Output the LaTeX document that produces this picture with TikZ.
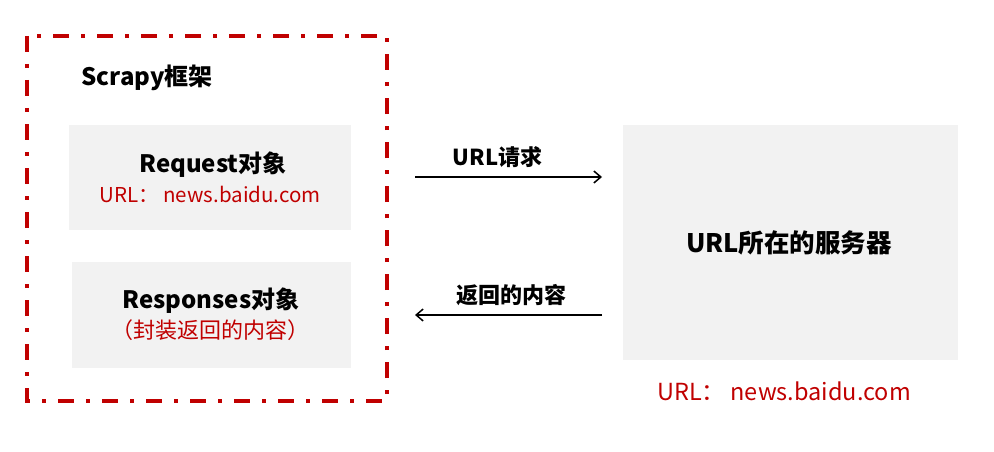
\documentclass[tikz,border=0pt]{standalone}
\usepackage{fontspec}
\setmainfont{Noto Sans CJK SC}
\usetikzlibrary{arrows.meta}
\definecolor{redc}{HTML}{C00000}
\definecolor{boxg}{HTML}{F2F2F2}
\tikzset{
  gbox/.style={fill=boxg, draw=none, inner sep=0pt},
  title/.style={font=\fontsize{24}{28}\selectfont\bfseries, text=black},
  redtxt/.style={font=\fontsize{22}{26}\selectfont, text=redc},
  lbl/.style={font=\fontsize{22}{26}\selectfont\bfseries, text=black},
  conn/.style={line width=1.5pt, -{Straight Barb[length=7pt,width=12pt,line width=1.5pt]}},
  frame/.style={draw=redc, line width=4pt, dash pattern=on 16pt off 12pt on 4pt off 12pt}
}
\begin{document}
\begin{tikzpicture}[x=1pt,y=-1pt]
\useasboundingbox (0,0) rectangle (994,452);
\draw[frame] (27,36) rectangle (387,401);
\node[anchor=west, font=\fontsize{24}{28}\selectfont\bfseries] (scr) at (78,78) {Scrapy框架};
\node[gbox, minimum width=282pt, minimum height=105pt] (req) at (210,177.5) {};
\node[title] (reqt) at (213,165) {Request对象};
\node[redtxt, font=\fontsize{20.5}{24}\selectfont] (requ) at (210,194) {URL： news.baidu.com};
\node[gbox, minimum width=279pt, minimum height=106pt] (resp) at (211.5,315) {};
\node[title] (respt) at (211,301) {Responses对象};
\node[redtxt] (respu) at (210,330) {（封装返回的内容）};
\node[gbox, minimum width=335pt, minimum height=235pt] (srv) at (790.5,242.5) {};
\node[title, font=\fontsize{25.5}{30}\selectfont\bfseries] (srvt) at (789,243) {URL所在的服务器};
\node[redtxt, font=\fontsize{23.5}{28}\selectfont] (srvu) at (784,391) {URL： news.baidu.com};
\coordinate (a1) at (415,177);
\coordinate (a2) at (602,177);
\coordinate (b1) at (602,315);
\coordinate (b2) at (415,315);
\draw[conn] (a1) -- node[lbl, above=5pt, xshift=-11pt] (l1) {URL请求} (a2);
\draw[conn] (b1) -- node[lbl, above=5pt, xshift=3pt] (l2) {返回的内容} (b2);
\end{tikzpicture}
\end{document}
